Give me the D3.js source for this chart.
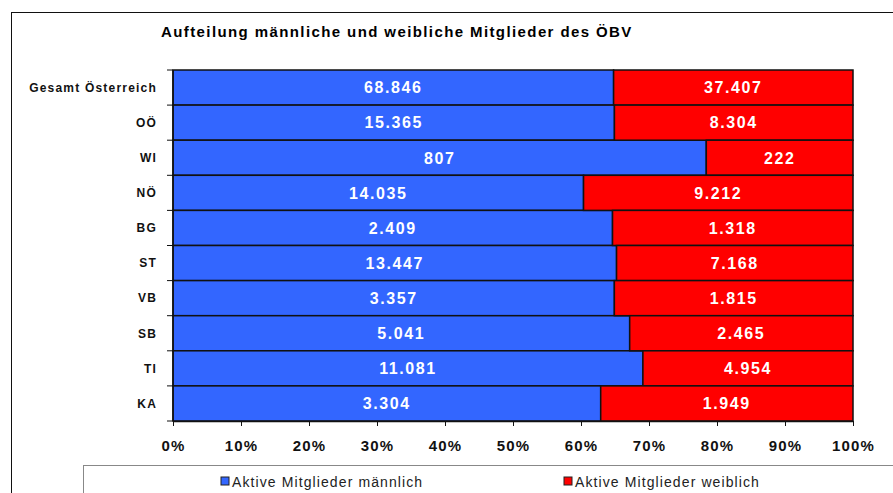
<!DOCTYPE html>
<html>
<head>
<meta charset="utf-8">
<script src="https://cdn.jsdelivr.net/npm/d3@7"></script>
<style>
  body { margin: 0; background: #fff; }
  svg { display: block; font-family: "Liberation Sans", Arial, sans-serif; }
</style>
</head>
<body>
<svg id="chart" width="893" height="493"></svg>
<script>
// chart data
const categories = ['Gesamt Österreich', 'OÖ', 'WI', 'NÖ', 'BG', 'ST', 'VB', 'SB', 'TI', 'KA'];
const maleValues = [68846, 15365, 807, 14035, 2409, 13447, 3357, 5041, 11081, 3304];
const femaleValues = [37407, 8304, 222, 9212, 1318, 7168, 1815, 2465, 4954, 1949];
const seriesNames = ['Aktive Mitglieder männlich', 'Aktive Mitglieder weiblich'];
const seriesColors = ['#3366ff', '#ff0000'];
const xTicks = [0, 0.1, 0.2, 0.3, 0.4, 0.5, 0.6, 0.7, 0.8, 0.9, 1];
const title = 'Aufteilung männliche und weibliche Mitglieder des ÖBV';

const svg = d3.select('#chart');

const margin = { top: 70, left: 173, right: 40, bottom: 72 };
const width = 893 - margin.left - margin.right;
const height = 493 - margin.top - margin.bottom;

// german number format: 68.846
const de = d3.formatLocale({ decimal: ',', thousands: '.', grouping: [3], currency: ['', ' €'] });
const numFmt = de.format(',d');

// outer chart frame
svg.append('rect')
  .attr('x', 11.5).attr('y', 12.5)
  .attr('width', 900).attr('height', 500)
  .attr('fill', 'none').attr('stroke', '#111').attr('stroke-width', 1);

svg.append('text')
  .attr('x', 161).attr('y', 37)
  .attr('font-size', '15px').attr('font-weight', 'bold')
  .attr('letter-spacing', '1.4px')
  .attr('fill', '#000')
  .text(title);

const g = svg.append('g').attr('transform', `translate(${margin.left},${margin.top})`);

const rows = categories.map((c, i) => ({ cat: c, m: maleValues[i], w: femaleValues[i] }));
const stack = d3.stack().keys(['m', 'w']).offset(d3.stackOffsetExpand);
const series = stack(rows);

const x = d3.scaleLinear().domain([0, 1]).range([0, width]);
const y = d3.scaleBand().domain(categories).range([0, height]).padding(0);

// bars
const layers = g.selectAll('.layer').data(series).join('g')
  .attr('class', 'layer')
  .attr('fill', (d, i) => seriesColors[i]);

layers.selectAll('rect').data(d => d).join('rect')
  .attr('x', d => x(d[0]))
  .attr('y', d => y(d.data.cat))
  .attr('width', d => x(d[1]) - x(d[0]))
  .attr('height', y.bandwidth())
  .attr('stroke', '#111')
  .attr('stroke-width', 1.5);

// value labels
layers.selectAll('text').data((d) => d.map(p => ({ p, key: d.key }))).join('text')
  .attr('x', d => (x(d.p[0]) + x(d.p[1])) / 2)
  .attr('y', d => y(d.p.data.cat) + y.bandwidth() / 2)
  .attr('dy', '0.36em')
  .attr('text-anchor', 'middle')
  .attr('fill', '#fff')
  .attr('font-size', '16px').attr('font-weight', 'bold')
  .attr('letter-spacing', '1.6px')
  .text(d => numFmt(d.p.data[d.key]));

// y axis (ticks at band edges)
const yAxis = g.append('g');
yAxis.append('line')
  .attr('x1', 0).attr('x2', 0).attr('y1', 0).attr('y2', height)
  .attr('stroke', '#111').attr('stroke-width', 1.5);
yAxis.selectAll('.ytick').data(d3.range(categories.length + 1)).join('line')
  .attr('class', 'ytick')
  .attr('x1', -6).attr('x2', 0)
  .attr('y1', i => i * y.step()).attr('y2', i => i * y.step())
  .attr('stroke', '#111');
yAxis.selectAll('.ylabel').data(categories).join('text')
  .attr('class', 'ylabel')
  .attr('x', -16)
  .attr('y', d => y(d) + y.bandwidth() / 2)
  .attr('dy', '0.36em')
  .attr('text-anchor', 'end')
  .attr('font-size', '12px').attr('font-weight', 'bold')
  .attr('letter-spacing', '1.2px')
  .attr('fill', '#111')
  .text(d => d);

// x axis
const xAxisCall = d3.axisBottom(x)
  .tickValues(xTicks)
  .tickFormat(d3.format('.0%'))
  .tickSizeInner(5).tickSizeOuter(0).tickPadding(14);

const xAxis = g.append('g')
  .attr('transform', `translate(0,${height})`)
  .call(xAxisCall);
xAxis.select('.domain').attr('stroke', '#111').attr('stroke-width', 1.5);
xAxis.selectAll('.tick line').attr('stroke', '#111');
xAxis.selectAll('text')
  .attr('font-size', '15px').attr('font-weight', 'bold')
  .attr('letter-spacing', '1.2px')
  .attr('font-family', '"Liberation Sans", Arial, sans-serif')
  .attr('fill', '#111');

// legend
const legend = svg.append('g');
legend.append('rect')
  .attr('x', 83.5).attr('y', 465.5)
  .attr('width', 850).attr('height', 60)
  .attr('fill', '#fff').attr('stroke', '#888');

const legendX = [221, 564];
const items = legend.selectAll('.item').data(seriesNames).join('g')
  .attr('class', 'item')
  .attr('transform', (d, i) => `translate(${legendX[i]},477)`);
items.append('rect')
  .attr('width', 8).attr('height', 8)
  .attr('fill', (d, i) => seriesColors[i])
  .attr('stroke', '#222');
items.append('text')
  .attr('x', 11).attr('y', 10)
  .attr('font-size', '14px')
  .attr('letter-spacing', '1.1px')
  .attr('fill', '#222')
  .text(d => d);
</script>
</body>
</html>
